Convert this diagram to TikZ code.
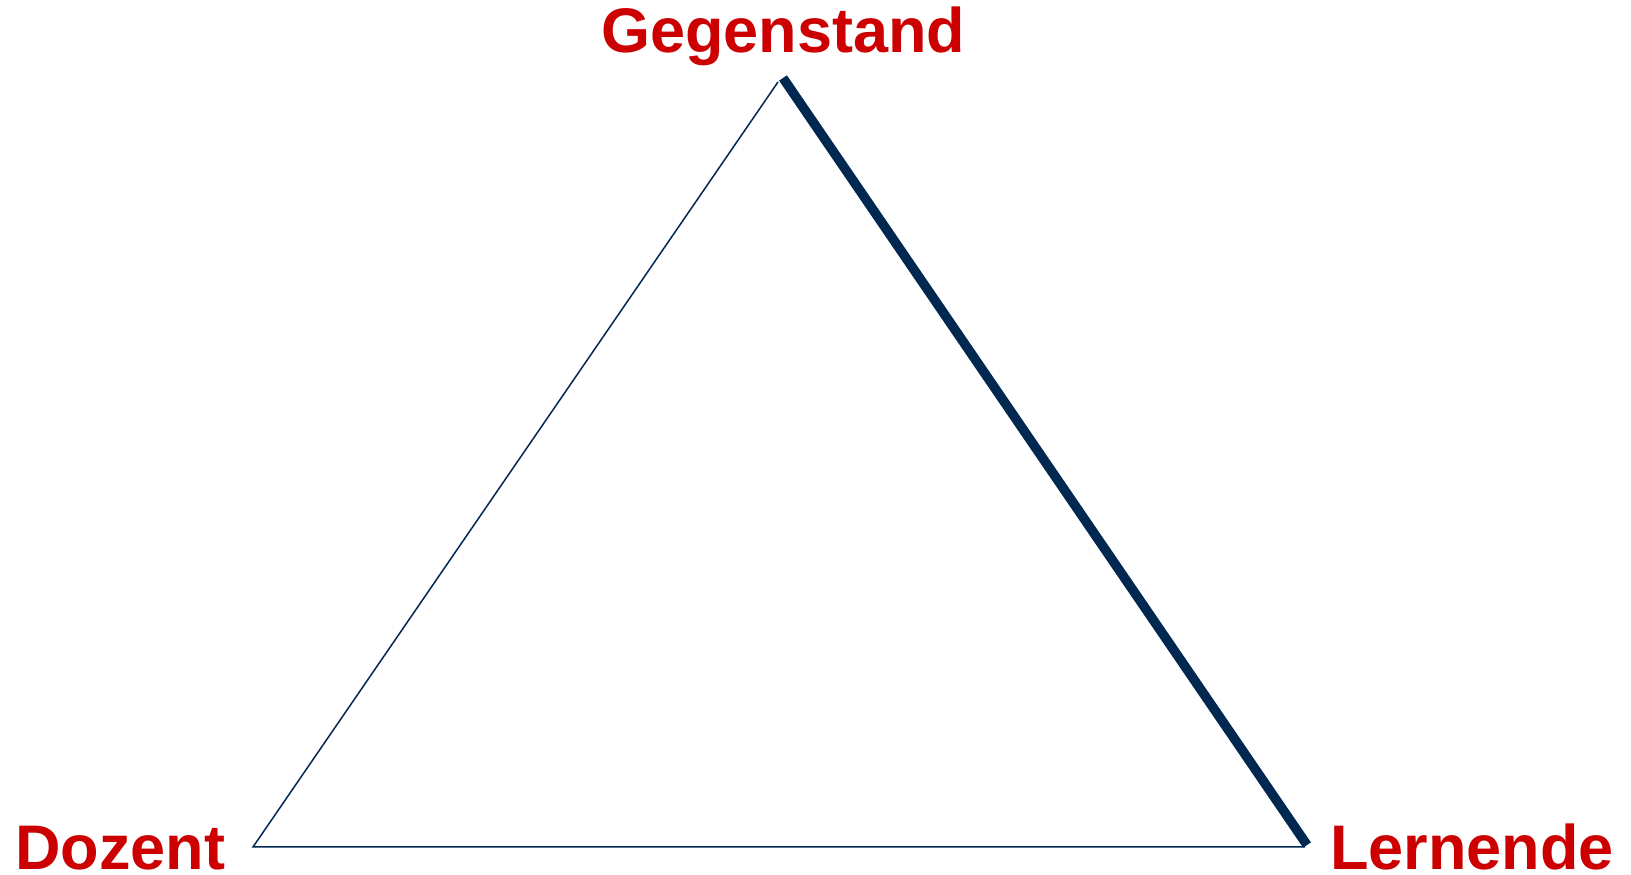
\documentclass[tikz,border=0pt]{standalone}
\usepackage{fontspec}
\setmainfont{Liberation Sans}
\definecolor{lblred}{RGB}{204,0,0}
\definecolor{navy}{RGB}{0,40,80}
\begin{document}
\begin{tikzpicture}[x=1pt,y=1pt,
  lbl/.style={font=\fontsize{63}{70}\selectfont\bfseries, text=lblred, inner sep=0pt, anchor=base west},
  thinedge/.style={draw=navy, line width=1.5pt},
  thickedge/.style={draw=navy, line width=9.5pt}]
\useasboundingbox (0,0) rectangle (1631,875);
\coordinate (top) at (778,793);
\coordinate (topk) at (783,797);
\coordinate (bl) at (253,28);
\coordinate (br) at (1305,28);
\coordinate (brk) at (1307,30);
\node[lbl] (gegen) at (601,822) {Gegenstand};
\node[lbl] (doz) at (15,5) {Dozent};
\node[lbl] (lern) at (1330,5) {Lernende};
\draw[thinedge, line join=miter] (br) -- (bl) -- (top);
\draw[thickedge] (topk) -- (brk);
\end{tikzpicture}
\end{document}
